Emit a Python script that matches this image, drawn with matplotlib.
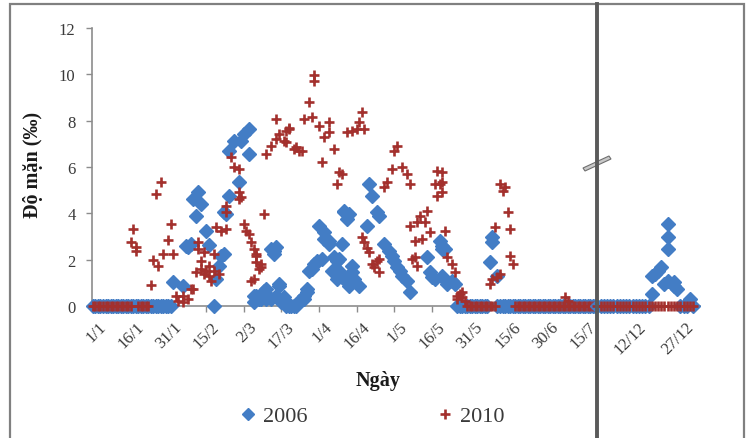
"""Độ mặn theo ngày, 2006 và 2010: scatter with a broken date axis (Jan–Jul | Dec)."""

import matplotlib

matplotlib.use("Agg")
import matplotlib.pyplot as plt
import matplotlib.transforms as mtransforms
from matplotlib.lines import Line2D
from matplotlib.patches import Polygon, Rectangle

plt.rcParams["font.family"] = ["Liberation Serif", "DejaVu Serif"]

# --- data: day index counted from 1/1 (0 = 1/1) for Jan–Jul, day of month for Dec
DAYS_2006 = [32, 36, 37, 38, 39, 40, 41, 42, 43, 45, 46, 48, 49, 50, 51, 52, 52, 53, 54, 54,
             56, 58, 59, 60, 62, 62, 64, 64, 65, 66, 67, 68, 68, 69, 69, 70, 71, 71, 72, 72,
             73, 73, 74, 74, 75, 76, 77, 77, 78, 79, 80, 81, 82, 82, 84, 84, 85, 85, 86, 87,
             88, 89, 89, 91, 90, 92, 92, 94, 94, 96, 95, 97, 96, 97, 98, 98, 99, 99, 100, 100,
             101, 101, 102, 102, 103, 103, 104, 106, 109, 110, 111, 113, 114, 116, 118, 119, 120, 121, 122, 123,
             125, 126, 133, 134, 135, 136, 138, 139, 139, 139, 140, 141, 141, 143, 144, 158, 159, 159, 161]
VALS_2006 = [1.02, 0.88, 2.6, 2.53, 2.68, 4.62, 3.9, 4.91, 4.4, 3.25, 2.63, 0.0, 1.16, 1.74, 2.17, 2.24, 4.04, 3.97, 4.76, 6.7,
             7.13, 5.34, 7.13, 7.42, 7.64, 6.56, 0.16, 0.44, 0.44, 0.3, 0.3, 0.52, 0.66, 0.73, 0.3, 0.38, 0.3, 2.46, 2.39, 2.24,
             2.53, 0.44, 0.95, 0.88, 0.16, 0.38, 0.0, 0.16, 0.0, 0.0, 0.0, 0.0, 0.16, 0.23, 0.3, 0.44, 0.59, 0.73, 1.52, 1.6,
             1.81, 1.88, 1.96, 2.03, 3.47, 3.18, 2.89, 2.82, 2.68, 2.1, 1.52, 1.96, 1.45, 1.17, 2.03, 1.52, 2.68, 1.24, 4.11, 4.04,
             3.75, 1.02, 3.97, 0.88, 1.74, 1.45, 1.17, 0.88, 3.47, 5.27, 4.76, 4.04, 3.9, 2.68, 2.39, 2.17, 1.96, 1.67, 1.52, 1.31,
             1.09, 0.59, 2.1, 1.45, 1.24, 1.17, 2.82, 2.46, 2.6, 1.31, 2.46, 1.02, 0.95, 1.09, 0.95, 1.88, 2.96, 2.75, 1.31]

DAYS_2010 = [15, 16, 17, 17, 23, 24, 25, 26, 27, 28, 30, 31, 32, 33, 34, 36, 36, 38, 39, 40,
             41, 42, 42, 43, 43, 44, 44, 45, 46, 46, 47, 48, 48, 49, 50, 51, 53, 53, 53, 55,
             56, 58, 58, 58, 59, 60, 61, 62, 63, 63, 64, 64, 65, 65, 65, 66, 67, 67, 68, 69,
             71, 73, 73, 74, 76, 77, 77, 78, 78, 80, 81, 82, 83, 84, 86, 87, 88, 88, 90, 91,
             92, 94, 94, 96, 97, 98, 99, 101, 103, 105, 106, 107, 108, 107, 108, 109, 110, 111, 112, 113,
             114, 114, 116, 117, 119, 120, 121, 123, 125, 126, 126, 127, 128, 128, 129, 129, 130, 131, 132, 133,
             134, 136, 137, 137, 138, 139, 139, 139, 140, 141, 143, 144, 145, 145, 146, 147, 147, 148, 158, 159,
             160, 161, 162, 162, 163, 164, 165, 166, 166, 167, 188, 189]
VALS_2010 = [2.78, 3.32, 2.39, 2.55, 0.9, 2.0, 4.83, 1.74, 5.34, 2.24, 2.86, 3.54, 2.24, 0.44, 0.2, 0.44, 0.17, 0.3, 0.73, 0.73,
             1.45, 2.75, 2.46, 1.6, 1.96, 2.32, 1.38, 1.52, 1.74, 1.31, 1.09, 2.24, 1.52, 3.4, 1.38, 3.25, 3.32, 4.3, 4.06, 6.42,
             6.0, 5.9, 4.6, 4.9, 4.7, 3.54, 3.25, 3.1, 2.75, 1.09, 2.46, 1.16, 2.24, 2.16, 1.9, 1.6, 1.81, 1.67, 3.97, 6.56,
             6.92, 7.21, 8.07, 7.42, 7.12, 7.06, 7.57, 7.64, 7.7, 6.78, 6.86, 6.7, 6.7, 8.07, 8.8, 8.14, 9.72, 9.97, 7.78, 6.2,
             7.3, 7.94, 7.5, 6.78, 5.27, 5.78, 5.7, 7.5, 7.57, 7.64, 7.94, 8.36, 7.64, 2.98, 2.75, 2.5, 2.32, 1.81, 1.67, 1.96,
             2.03, 1.45, 5.12, 5.34, 5.91, 6.7, 6.92, 5.99, 5.7, 5.27, 3.47, 2.03, 2.82, 2.1, 3.61, 1.74, 3.9, 2.89, 3.61, 4.11,
             3.18, 5.27, 5.84, 4.76, 5.27, 4.91, 5.77, 5.34, 3.25, 2.1, 1.81, 1.45, 0.44, 0.3, 0.52, 0.38, 0.59, 0.2, 0.95, 1.16,
             3.4, 1.24, 5.27, 1.38, 4.98, 5.12, 4.04, 3.32, 2.17, 1.81, 0.38, 0.2]

# stretches of days where the reading is 0 (first day, last day), inclusive
ZERO_RUNS_2006 = [(0, 31), (145, 157), (161, 200)]
ZERO_RUNS_2010 = [(0, 15), (18, 22), (149, 160), (168, 200)]

DEC_DAYS_2006 = [18, 18, 19, 20, 21, 22, 23, 23, 23, 23, 25, 25, 26, 30]
DEC_VALS_2006 = [0.52, 1.31, 1.38, 1.52, 1.67, 0.95, 1.09, 2.46, 3.0, 3.54, 1.02, 0.88, 0.73, 0.3]
DEC_ZERO_RUNS_2006 = [(1, 17), (27, 29), (31, 31)]
DEC_ZERO_RUNS_2010 = [(1, 31)]

MAIN_TICK_LABELS = ["1/1", "16/1", "31/1", "15/2", "2/3", "17/3", "1/4", "16/4",
                    "1/5", "16/5", "31/5", "15/6", "30/6", "15/7"]
DEC_TICK_DAYS = [12, 27]
DEC_TICK_LABELS = ["12/12", "27/12"]
Y_TICKS = [0, 2, 4, 6, 8, 10, 12]

BLUE = "#437DC5"
RED = "#A3302D"
AXIS_GRAY = "#8c8c8c"
TEXT_GRAY = "#3a3a3a"

W_PX, H_PX = 749, 439

# marker styles shared by the plot and the legend
DIAMOND = dict(ls="none", marker="D", ms=6.8, color=BLUE, mec=BLUE)
PLUS = dict(ls="none", marker="+", ms=7.5, mew=1.9, color=RED)


def with_zero_runs(days, vals, runs):
    d, v = list(days), list(vals)
    for first, last in runs:
        for day in range(first, last + 1):
            d.append(day)
            v.append(0.0)
    return d, v


def fx(px):
    return px / W_PX


def fy(py):
    return 1 - py / H_PX


def style_axes(ax):
    for side in ("top", "right", "left"):
        ax.spines[side].set_visible(False)
    ax.spines["bottom"].set_color(AXIS_GRAY)
    ax.spines["bottom"].set_linewidth(1.2)
    ax.set_axisbelow(True)
    ax.set_ylim(0, 12)
    ax.tick_params(axis="x", direction="out", length=4, width=1, color=AXIS_GRAY,
                   labelsize=12, labelcolor=TEXT_GRAY, pad=5)


def place_xlabels(ax, fig):
    shift = mtransforms.ScaledTranslation(5 / 100, 0, fig.dpi_scale_trans)
    for lbl in ax.get_xticklabels():
        lbl.set_rotation(45)
        lbl.set_ha("right")
        lbl.set_va("top")
        lbl.set_rotation_mode("anchor")
        lbl.set_transform(lbl.get_transform() + shift)


fig = plt.figure(figsize=(W_PX / 100, H_PX / 100), dpi=100)

y_top, y_bot = 29, 307
main_left, split_x, dec_right = 92.2, 597, 700
ax1 = fig.add_axes([fx(main_left), fy(y_bot), fx(split_x - main_left), (y_bot - y_top) / H_PX])
ax2 = fig.add_axes([fx(split_x), fy(y_bot), fx(dec_right - split_x), (y_bot - y_top) / H_PX])

# Jan–Jul
d06, v06 = with_zero_runs(DAYS_2006, VALS_2006, ZERO_RUNS_2006)
d10, v10 = with_zero_runs(DAYS_2010, VALS_2010, ZERO_RUNS_2010)
ax1.plot(d06, v06, clip_on=False, zorder=3, **DIAMOND)
ax1.plot(d10, v10, clip_on=False, zorder=4, **PLUS)

style_axes(ax1)
ax1.set_xlim(-0.3, 200.6)
ax1.spines["left"].set_visible(True)
ax1.spines["left"].set_color(AXIS_GRAY)
ax1.spines["left"].set_linewidth(1.2)
ax1.set_yticks(Y_TICKS)
ax1.tick_params(axis="y", direction="out", length=4, width=1, color=AXIS_GRAY,
                labelsize=12, labelcolor=TEXT_GRAY, pad=8)
ax1.set_xticks([15 * k for k in range(len(MAIN_TICK_LABELS))])
ax1.set_xticklabels(MAIN_TICK_LABELS)
place_xlabels(ax1, fig)

# December
dd06, dv06 = with_zero_runs(DEC_DAYS_2006, DEC_VALS_2006, DEC_ZERO_RUNS_2006)
dd10, dv10 = with_zero_runs([], [], DEC_ZERO_RUNS_2010)
ax2.plot(dd06, dv06, clip_on=False, zorder=3, **DIAMOND)
ax2.plot(dd10, dv10, clip_on=False, zorder=4, **PLUS)

style_axes(ax2)
ax2.set_xlim(0.9, 33.1)
ax2.set_yticks([])
ax2.set_xticks(DEC_TICK_DAYS)
ax2.set_xticklabels(DEC_TICK_LABELS)
place_xlabels(ax2, fig)

# axis titles
fig.text(fx(33), fy(165), "Độ mặn (‰)", rotation=90, ha="center", va="center",
         fontsize=14.5, fontweight="bold", color="#1a1a1a")
fig.text(fx(378), fy(381), "Ngày", ha="center", va="center",
         fontsize=14.5, fontweight="bold", color="#1a1a1a")

# legend
handles = [Line2D([], [], **{**DIAMOND, "ms": 5.8}), Line2D([], [], **PLUS)]
fig.legend(handles, ["2006", "2010"], loc="center", bbox_to_anchor=(fx(373), fy(417)),
           ncol=2, frameon=False, fontsize=16, labelcolor=TEXT_GRAY,
           handlelength=0.6, handletextpad=0.35, columnspacing=5.9)

# outer frame, split line and break mark
fig.add_artist(Rectangle((fx(10), -0.02), fx(744) - fx(10), fy(5) + 0.02,
                         transform=fig.transFigure, fill=False, edgecolor="#808080", lw=1.6))
fig.add_artist(Line2D([fx(split_x)] * 2, [0, fy(5)], transform=fig.transFigure,
                      color="#5a5a5a", lw=2.8))
fig.add_artist(Polygon([(fx(583), fy(169)), (fx(609), fy(157)), (fx(611), fy(160)), (fx(585), fy(172))],
                       closed=True, transform=fig.transFigure, facecolor="#c8c8c8",
                       edgecolor="#6f6f6f", lw=0.8))

fig.savefig("out.png", dpi=100)
